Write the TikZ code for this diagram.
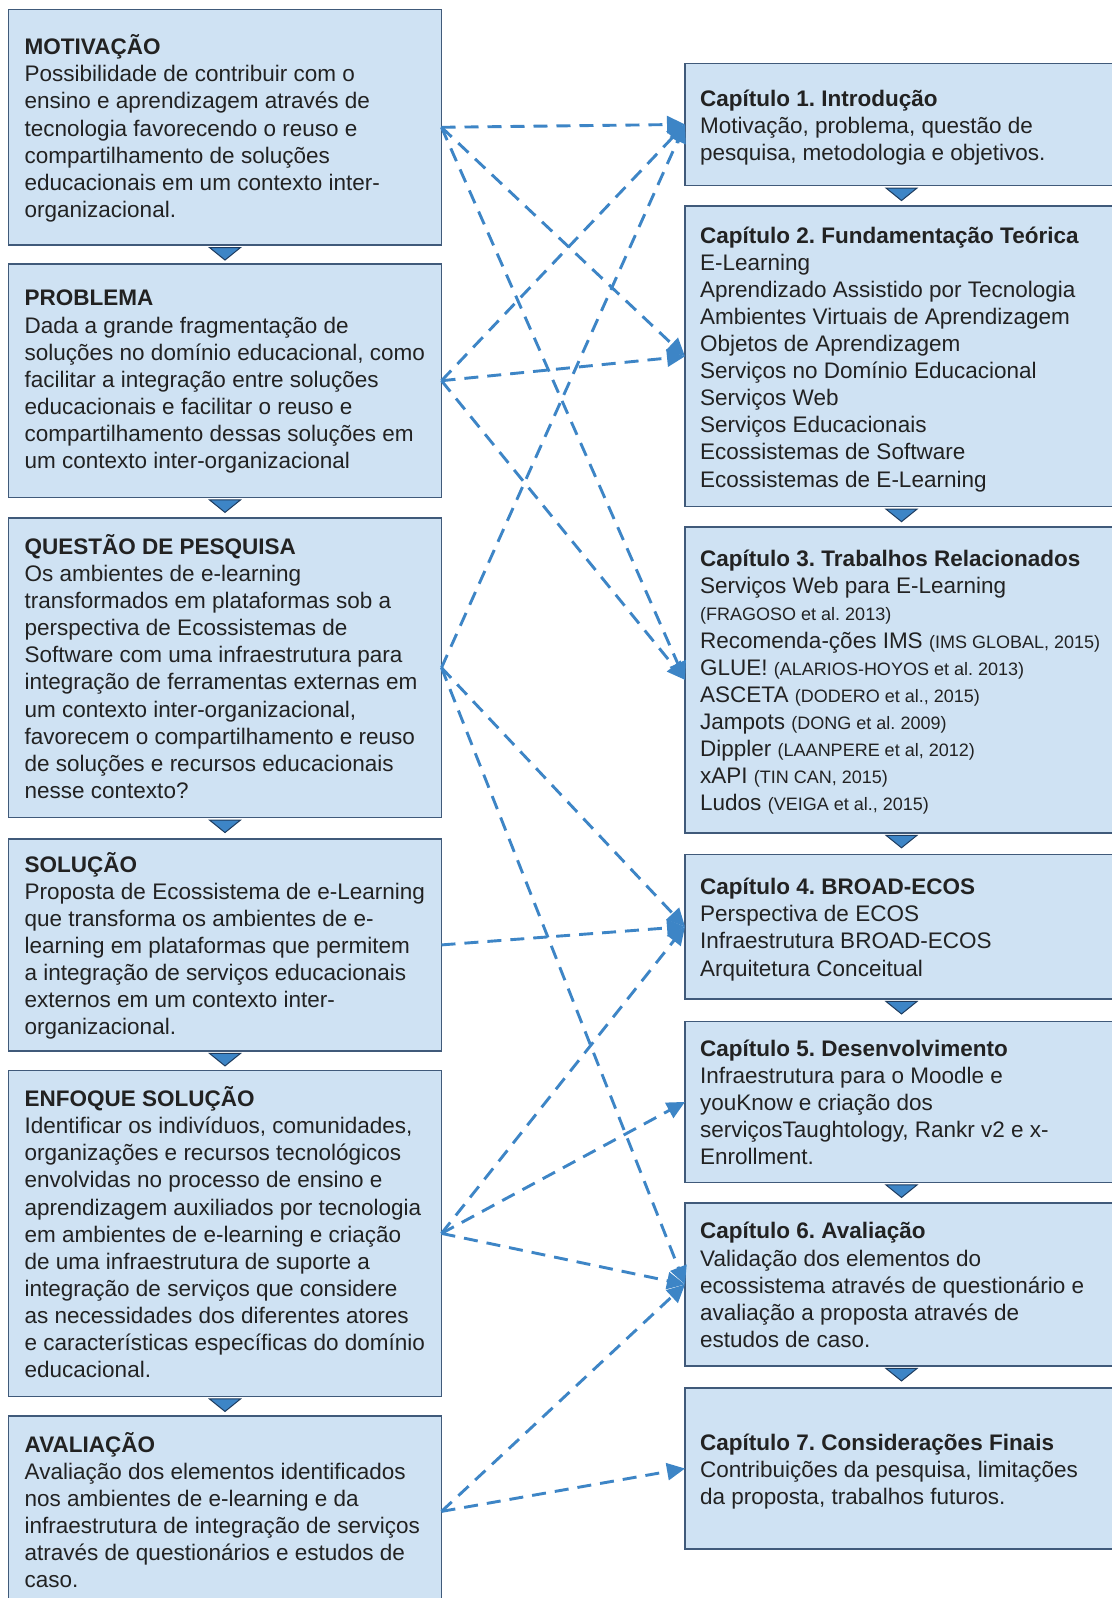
\documentclass[tikz,border=0pt]{standalone}
\usepackage{fontspec}
\setmainfont{Liberation Sans}
\usetikzlibrary{arrows.meta}
\frenchspacing

\definecolor{boxfill}{HTML}{CFE2F3}
\definecolor{boxline}{RGB}{64,90,122}
\definecolor{flowblue}{HTML}{3D85C6}
\definecolor{tridark}{RGB}{30,60,95}
\definecolor{ink}{HTML}{222222}

% invisible strut that balances the first and last line of a text block
\newcommand\tstrut{\rule[-5pt]{0pt}{32pt}}
% smaller type for the bibliographic references
\newcommand\refsm[1]{{\fontsize{18pt}{27.1pt}\selectfont #1}}
% small downward triangle under a panel
\newcommand\downtri[1]{\filldraw[tri] ([yshift=-2.5pt]#1.south) ++(-15.5,0) -- ++(31,0) -- ++(-15.5,12.5) -- cycle;}

\begin{document}
\begin{tikzpicture}[x=1pt,y=-1pt,
  panel/.style={draw=boxline, line width=1.5pt, fill=boxfill, minimum width=433pt, inner sep=0pt, outer sep=0pt},
  txt/.style={anchor=west, align=left, inner sep=0pt, text=ink,
    font=\fontsize{22.5pt}{27.1pt}\selectfont,
    execute at begin node=\tstrut, execute at end node=\tstrut},
  ltxt/.style={txt, xshift=16pt, yshift=-1.2pt},
  rtxt/.style={txt, xshift=15pt, yshift=-3pt},
  flow/.style={draw=flowblue, line width=2.9pt, dash pattern=on 14pt off 9pt,
    -{Triangle[length=18pt,width=17pt]}},
  tri/.style={fill=flowblue, draw=tridark, line width=1pt}
]
\useasboundingbox (0,0) rectangle (1111,1598);
\fill[white] (0,0) rectangle (1111,1598);

% ---- left column: research framing ----
\node[panel, minimum height=235.5pt] (mot)   at (225,127.3)  {};
\node[panel, minimum height=233.4pt] (prob)  at (225,380.7)  {};
\node[panel, minimum height=299.7pt] (quest) at (225,667.7)  {};
\node[panel, minimum height=212.0pt] (sol)   at (225,944.9)  {};
\node[panel, minimum height=326.1pt] (enf)   at (225,1233.4) {};
\node[panel, minimum height=191.2pt] (aval)  at (225,1511.4) {};

\node[ltxt] (motT) at (mot.west) {\textbf{MOTIVAÇÃO}\\
Possibilidade de contribuir com o\\
ensino e aprendizagem através de\\
tecnologia favorecendo o reuso e\\
compartilhamento de soluções\\
educacionais em um contexto inter-\\
organizacional.};

\node[ltxt] (probT) at (prob.west) {\textbf{PROBLEMA}\\
Dada a grande fragmentação de\\
soluções no domínio educacional, como\\
facilitar a integração entre soluções\\
educacionais e facilitar o reuso e\\
compartilhamento dessas soluções em\\
um contexto inter-organizacional};

\node[ltxt] (questT) at (quest.west) {\textbf{QUESTÃO DE PESQUISA}\\
Os ambientes de e-learning\\
transformados em plataformas sob a\\
perspectiva de Ecossistemas de\\
Software com uma infraestrutura para\\
integração de ferramentas externas em\\
um contexto inter-organizacional,\\
favorecem o compartilhamento e reuso\\
de soluções e recursos educacionais\\
nesse contexto?};

\node[ltxt] (solT) at (sol.west) {\textbf{SOLUÇÃO}\\
Proposta de Ecossistema de e-Learning\\
que transforma os ambientes de e-\\
learning em plataformas que permitem\\
a integração de serviços educacionais\\
externos em um contexto inter-\\
organizacional.};

\node[ltxt] (enfT) at (enf.west) {\textbf{ENFOQUE SOLUÇÃO}\\
Identificar os indivíduos, comunidades,\\
organizações e recursos tecnológicos\\
envolvidas no processo de ensino e\\
aprendizagem auxiliados por tecnologia\\
em ambientes de e-learning e criação\\
de uma infraestrutura de suporte a\\
integração de serviços que considere\\
as necessidades dos diferentes atores\\
e características específicas do domínio\\
educacional.};

\node[ltxt] (avalT) at (aval.west) {\textbf{AVALIAÇÃO}\\
Avaliação dos elementos identificados\\
nos ambientes de e-learning e da\\
infraestrutura de integração de serviços\\
através de questionários e estudos de\\
caso.};

% ---- right column: thesis chapters ----
\node[panel, minimum height=122.3pt] (c1) at (901.5,124.4)  {};
\node[panel, minimum height=300.7pt] (c2) at (901.5,356.3)  {};
\node[panel, minimum height=305.8pt] (c3) at (901.5,679.9)  {};
\node[panel, minimum height=144.7pt] (c4) at (901.5,926.6)  {};
\node[panel, minimum height=161.1pt] (c5) at (901.5,1101.9) {};
\node[panel, minimum height=163.1pt] (c6) at (901.5,1284.4) {};
\node[panel, minimum height=161.0pt] (c7) at (901.5,1468.5) {};

\node[rtxt] (c1T) at (c1.west) {\textbf{Capítulo 1. Introdução}\\
Motivação, problema, questão de\\
pesquisa, metodologia e objetivos.};

\node[rtxt] (c2T) at (c2.west) {\textbf{Capítulo 2. Fundamentação Teórica}\\
E-Learning\\
Aprendizado Assistido por Tecnologia\\
Ambientes Virtuais de Aprendizagem\\
Objetos de Aprendizagem\\
Serviços no Domínio Educacional\\
Serviços Web\\
Serviços Educacionais\\
Ecossistemas de Software\\
Ecossistemas de E-Learning};

\node[rtxt] (c3T) at (c3.west) {\textbf{Capítulo 3. Trabalhos Relacionados}\\
Serviços Web para E-Learning\\
\refsm{(FRAGOSO et al. 2013)}\\
Recomenda-ções IMS \refsm{(IMS GLOBAL, 2015)}\\
GLUE! \refsm{(ALARIOS-HOYOS et al. 2013)}\\
ASCETA \refsm{(DODERO et al., 2015)}\\
Jampots \refsm{(DONG et al. 2009)}\\
Dippler \refsm{(LAANPERE et al, 2012)}\\
xAPI \refsm{(TIN CAN, 2015)}\\
Ludos \refsm{(VEIGA et al., 2015)}};

\node[rtxt] (c4T) at (c4.west) {\textbf{Capítulo 4. BROAD-ECOS}\\
Perspectiva de ECOS\\
Infraestrutura BROAD-ECOS\\
Arquitetura Conceitual};

\node[rtxt] (c5T) at (c5.west) {\textbf{Capítulo 5. Desenvolvimento}\\
Infraestrutura para o Moodle e\\
youKnow e criação dos\\
serviçosTaughtology, Rankr v2 e x-\\
Enrollment.};

\node[rtxt] (c6T) at (c6.west) {\textbf{Capítulo 6. Avaliação}\\
Validação dos elementos do\\
ecossistema através de questionário e\\
avaliação a proposta através de\\
estudos de caso.};

\node[rtxt] (c7T) at (c7.west) {\textbf{Capítulo 7. Considerações Finais}\\
Contribuições da pesquisa, limitações\\
da proposta, trabalhos futuros.};

% ---- sequence markers between panels ----
\downtri{mot}\downtri{prob}\downtri{quest}\downtri{sol}\downtri{enf}
\downtri{c1}\downtri{c2}\downtri{c3}\downtri{c4}\downtri{c5}\downtri{c6}

% ---- links from the framing to the chapters ----
\draw[flow] (mot.east) -- (c1.west);
\draw[flow] (mot.east) -- (c2.west);
\draw[flow] (mot.east) -- (c3.west);
\draw[flow] (prob.east) -- (c1.west);
\draw[flow] (prob.east) -- (c2.west);
\draw[flow] (prob.east) -- (c3.west);
\draw[flow] (quest.east) -- (c1.west);
\draw[flow] (quest.east) -- (c4.west);
\draw[flow] (quest.east) -- (c6.west);
\draw[flow] (sol.east) -- (c4.west);
\draw[flow] (enf.east) -- (c4.west);
\draw[flow] (enf.east) -- (c5.west);
\draw[flow] (enf.east) -- (c6.west);
\draw[flow] (aval.east) -- (c6.west);
\draw[flow] (aval.east) -- (c7.west);
\end{tikzpicture}
\end{document}
